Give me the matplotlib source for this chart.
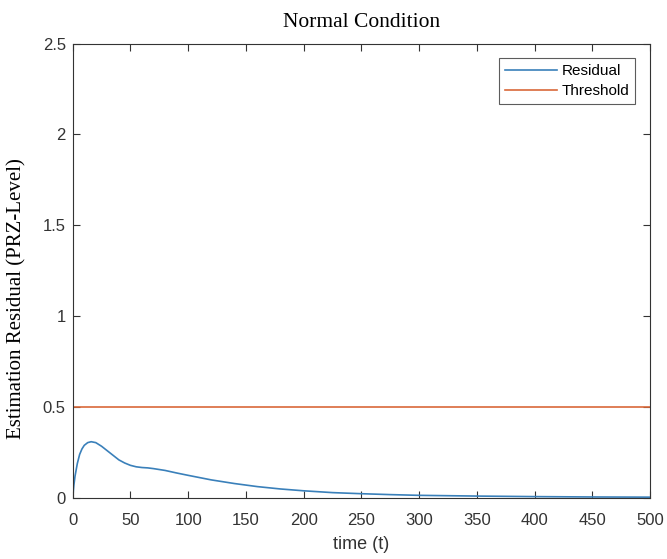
import matplotlib
matplotlib.use('Agg')
import matplotlib.pyplot as plt

# Residual values (time, PRZ-level)
t = [0, 1, 2, 4, 6, 8, 10, 13, 16, 20, 25, 30, 35, 40, 45, 50, 55, 60, 65, 70,
     80, 90, 100, 120, 140, 160, 180, 200, 225, 250, 275, 300, 350, 400, 450, 500]
residual = [0.0, 0.07, 0.12, 0.19, 0.24, 0.27, 0.29, 0.305, 0.31, 0.305, 0.285,
            0.26, 0.235, 0.21, 0.193, 0.18, 0.172, 0.168, 0.166, 0.162,
            0.152, 0.138, 0.125, 0.1, 0.08, 0.063, 0.05, 0.04, 0.03, 0.024,
            0.019, 0.015, 0.011, 0.008, 0.006, 0.005]
threshold = 0.5

fig = plt.figure(figsize=(6.67, 5.59), dpi=100)
ax = fig.add_axes([0.109, 0.109, 0.8655, 0.813])

ax.plot(t, residual, color='#3A80BA', linewidth=1.2, label='Residual')
ax.axhline(threshold, color='#D9683A', linewidth=1.2, label='Threshold')

ax.set_xlim(0, 500)
ax.set_ylim(0, 2.5)
ax.set_xticks(range(0, 501, 50))
ax.set_yticks([0, 0.5, 1, 1.5, 2, 2.5])
ax.set_yticklabels(['0', '0.5', '1', '1.5', '2', '2.5'])
ax.tick_params(direction='in', top=True, right=True, length=5, labelsize=12,
               colors='#333333')
ax.tick_params(axis='x', pad=11)
ax.tick_params(axis='y', pad=5)
for lbl in ax.get_xticklabels() + ax.get_yticklabels():
    lbl.set_family('Liberation Sans')
    lbl.set_color('#333333')
for s in ax.spines.values():
    s.set_color('#333333')
    s.set_linewidth(0.8)

ax.set_xlabel('time (t)', family='Liberation Sans', fontsize=13, color='#333333',
              labelpad=5.5)
ax.set_ylabel('Estimation Residual (PRZ-Level)', family='Liberation Serif',
              fontsize=15)
ax.yaxis.set_label_coords(-0.08, 0.44)
ax.set_title('Normal Condition', family='Liberation Serif', fontsize=15.5, pad=12)

leg = ax.legend(loc='upper right', prop={'family': 'Liberation Sans', 'size': 11},
                fancybox=False, edgecolor='#333333', handlelength=3.4,
                handletextpad=0.3, borderpad=0.4, borderaxespad=0.95,
                labelspacing=0.4)
leg.get_frame().set_linewidth(0.8)

fig.savefig('out.png', dpi=100)
